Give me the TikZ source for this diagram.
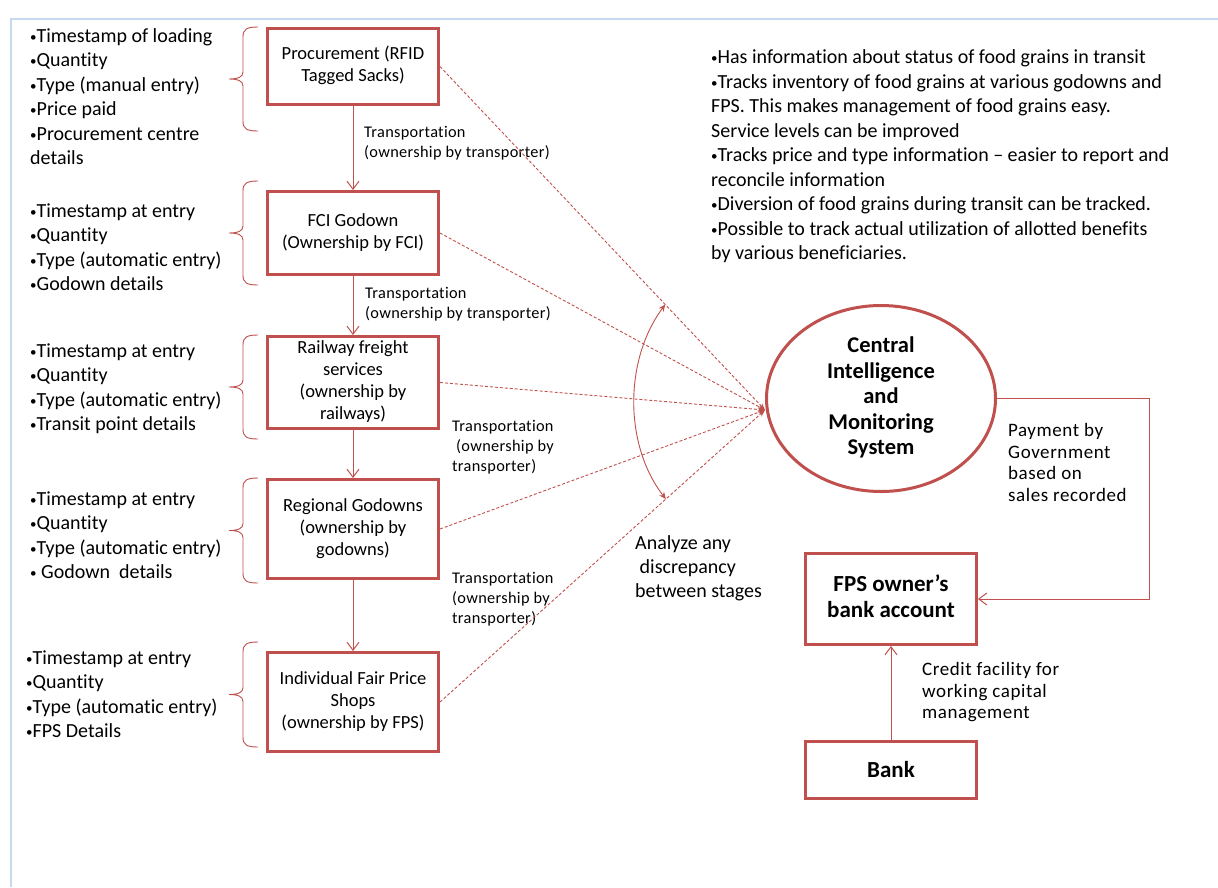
\documentclass[tikz,border=0pt]{standalone}
\usepackage{fontspec}
\setmainfont{Carlito}[Ligatures=NoCommon]
\usetikzlibrary{shapes.geometric,arrows.meta,calc}
\definecolor{redc}{RGB}{192,80,77}
\definecolor{framec}{RGB}{198,217,241}
\newcommand{\bul}{\raisebox{1pt}{\fontsize{13}{13}\selectfont •}}
\tikzset{
  box/.style={draw=redc, line width=3pt, minimum width=171pt, inner sep=0pt, align=center,
    font=\fontsize{18.5}{22}\selectfont, text=black},
  boldbox/.style={box, font=\fontsize{23}{26}\selectfont\bfseries},
  hubshape/.style={ellipse, draw=redc, line width=3pt, minimum width=229pt, minimum height=186pt,
    inner sep=0pt, align=center, font=\fontsize{22.5}{25.5}\selectfont\bfseries},
  listtext/.style={anchor=west, inner sep=0pt, align=left, font=\fontsize{20}{24.5}\selectfont},
  translabel/.style={anchor=west, inner sep=0pt, align=left, font=\fontsize{16.3}{20}\selectfont\addfontfeature{LetterSpace=2}},
  notetext/.style={anchor=west, inner sep=0pt, align=left, font=\fontsize{19}{21.5}\selectfont\addfontfeature{LetterSpace=3}},
  conn/.style={draw=redc, line width=1pt},
  varrow/.style={conn, -{Straight Barb[length=8pt,width=12pt]}},
  dashline/.style={draw=redc, line width=0.9pt, dash pattern=on 3pt off 2pt, -{Stealth[length=7pt,width=5pt]}},
  arcline/.style={draw=redc, line width=0.9pt, {Stealth[length=7pt,width=6pt]}-{Stealth[length=7pt,width=6pt]}},
  bracel/.style={draw=redc, line width=0.9pt},
  framel/.style={draw=framec, line width=2pt}
}
\newcommand{\mybrace}[2]{%
  \draw[bracel] (258,#1) .. controls (247,#1) and (243,#1+2) .. (243,#1+10)
    -- (243,{(#1+#2)/2-7}) .. controls (243,{(#1+#2)/2-2}) and (238,{(#1+#2)/2}) .. (229,{(#1+#2)/2})
    .. controls (238,{(#1+#2)/2}) and (243,{(#1+#2)/2+2}) .. (243,{(#1+#2)/2+7})
    -- (243,#2-10) .. controls (243,#2-2) and (247,#2) .. (258,#2);}
\begin{document}
\begin{tikzpicture}[x=1pt,y=-1pt]
\useasboundingbox[fill=white] (0,0) rectangle (1218,887);
% frame
\draw[framel] (1218,19) -- (11,19) -- (11,887);

% stage boxes
\node[box, minimum height=76pt] (b1) at (353,66.5) {\strut Procurement (RFID\\Tagged Sacks)\strut};
\node[box, minimum height=83pt] (b2) at (353,233) {\strut FCI Godown\\(Ownership by FCI)\strut};
\node[box, minimum height=92pt] (b3) at (353,382.5) {\strut Railway freight\\services\\(ownership by\\railways)\strut};
\node[box, minimum height=99pt] (b4) at (353,529) {\strut Regional Godowns\\(ownership by\\godowns)\strut};
\node[box, minimum height=99pt] (b5) at (353,702) {\strut Individual Fair Price\\Shops\\(ownership by FPS)\strut};

% vertical arrows
\draw[varrow] (b1.south) -- (b2.north);
\draw[varrow] (b2.south) -- (b3.north);
\draw[varrow] (b3.south) -- (b4.north);
\draw[varrow] (b4.south) -- (b5.north);

% transportation labels
\node[translabel] (t1) at (364,143) {\strut Transportation\\(ownership by transporter)\strut};
\node[translabel] (t2) at (365,304) {\strut Transportation\\(ownership by transporter)\strut};
\node[translabel] (t3) at (452,447) {\strut Transportation\\\ (ownership by\\transporter)\strut};
\node[translabel] (t4) at (452,599) {\strut Transportation\\(ownership by\\transporter)\strut};

% braces
\mybrace{27}{131}
\mybrace{181}{285}
\mybrace{335}{439}
\mybrace{478}{583}
\mybrace{642}{747}

% left lists
\node[listtext] (l1) at (30,98.8) {\strut \bul Timestamp of loading\\\bul Quantity\\\bul Type (manual entry)\\\bul Price paid\\\bul Procurement centre\\details\strut};
\node[listtext] (l2) at (30,249) {\strut \bul Timestamp at entry\\\bul Quantity\\\bul Type (automatic entry)\\\bul Godown details\strut};
\node[listtext] (l3) at (30,389) {\strut \bul Timestamp at entry\\\bul Quantity\\\bul Type (automatic entry)\\\bul Transit point details\strut};
\node[listtext] (l4) at (30,537) {\strut \bul Timestamp at entry\\\bul Quantity\\\bul Type (automatic entry)\\\bul\ Godown~ details\strut};
\node[listtext] (l5) at (26,696) {\strut \bul Timestamp at entry\\\bul Quantity\\\bul Type (automatic entry)\\\bul FPS Details\strut};

% central system
\node[hubshape] (cims) at (881,398.5) {\strut Central\\Intelligence\\and\\Monitoring\\System\strut};
\coordinate (hub) at (765,410);

% dashed connectors
\draw[dashline] (b1.east) -- (hub);
\draw[dashline] (b2.east) -- (hub);
\draw[dashline] (b3.east) -- (hub);
\draw[dashline] (b4.east) -- (hub);
\draw[dashline] (b5.east) -- (hub);

% discrepancy arc
\coordinate (a1) at ($(b1.east)!0.693!(hub)$);
\coordinate (a2) at ($(b5.east)!0.695!(hub)$);
\draw[arcline] (a1) .. controls (624,360) and (624,445) .. (a2);
\node[listtext, font=\fontsize{20}{24}\selectfont] (an) at (635,569) {\strut Analyze any\\\ discrepancy\\between stages\strut};

% right info text
\node[listtext] (info) at (711,157) {\strut \bul Has information about status of food grains in transit\\
\bul Tracks inventory of food grains at various godowns and\\
FPS. This makes management of food grains easy.\\
Service levels can be improved\\
\bul Tracks price and type information – easier to report and\\
reconcile information\\
\bul Diversion of food grains during transit can be tracked.\\
\bul Possible to track actual utilization of allotted benefits\\
by various beneficiaries.\strut};

% bank side
\node[boldbox, minimum height=91pt] (fps) at (891,599) {\strut FPS owner’s\\bank account\strut};
\node[boldbox, minimum height=57pt] (bank) at (891,770) {Bank};
\coordinate (pr) at (1149,0);
\draw[conn, -{Straight Barb[length=8pt,width=12pt]}] (cims.east) -- (cims.east -| pr) |- (fps.east);
\draw[varrow] (bank.north) -- (fps.south);
\node[notetext] (pay) at (1008,464.5) {\strut Payment by\\Government\\based on\\sales recorded\strut};
\node[notetext] (cred) at (922,692.7) {\strut Credit facility for\\working capital\\management\strut};
\end{tikzpicture}
\end{document}
